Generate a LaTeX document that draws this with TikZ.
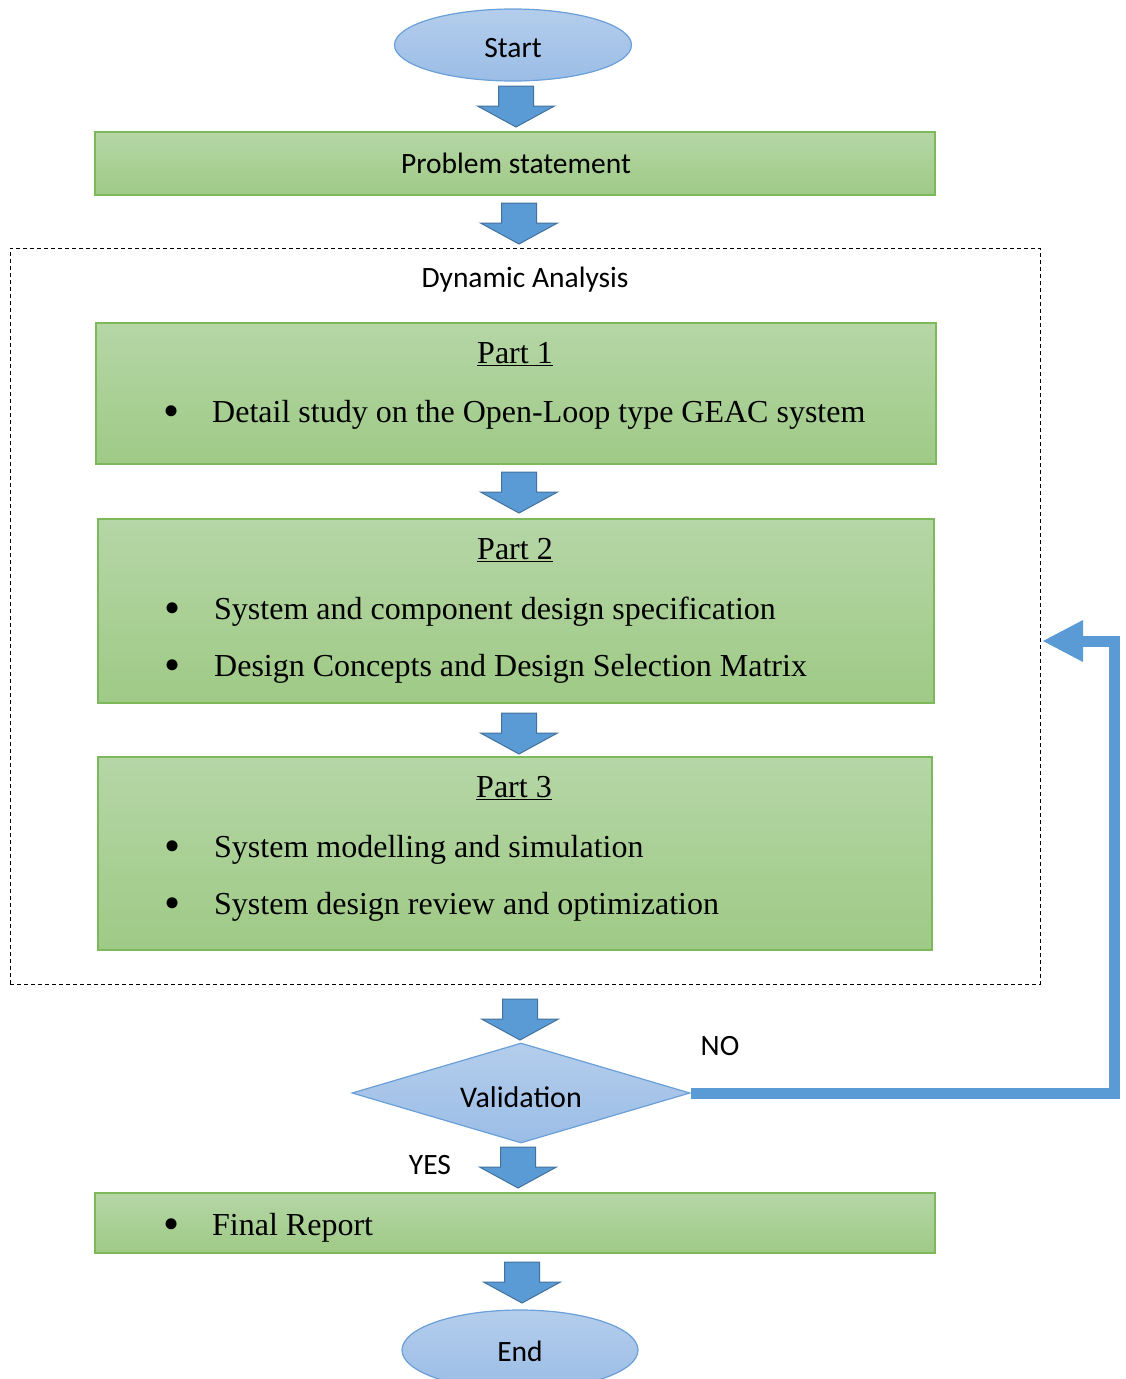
\documentclass[tikz,border=0pt]{standalone}
\usepackage{fontspec}
\setmainfont{Liberation Serif}
\newfontfamily\calibri{Carlito}
\usetikzlibrary{shapes.geometric}
\definecolor{gtop}{HTML}{B5D6A6}
\definecolor{gbot}{HTML}{9FCA86}
\definecolor{gline}{HTML}{7DB95A}
\definecolor{btop}{HTML}{B4CDEC}
\definecolor{bbot}{HTML}{9BBDE6}
\definecolor{bline}{HTML}{6A9FD8}
\definecolor{afill}{HTML}{5B9BD5}
\definecolor{aline}{HTML}{41719C}
\tikzset{
  gbox/.style={draw=gline, line width=1.2pt, top color=gtop, bottom color=gbot, rectangle, inner sep=0pt},
  bell/.style={ellipse, draw=bline, line width=1.2pt, top color=btop, bottom color=bbot, inner sep=0pt},
  sanslbl/.style={font=\calibri\fontsize{29.5}{34}\selectfont, inner sep=0pt},
  serlbl/.style={font=\fontsize{32}{37}\selectfont, inner sep=0pt},
  bul/.style={font=\fontsize{46}{50}\selectfont, inner sep=0pt},
  barrow/.style={fill=afill, draw=aline, line width=1pt, line join=miter},
}
\newcommand\blkarrow[1]{%
  \draw[barrow, shift={(#1)}] (-17.5,0) -- (17.5,0) -- (17.5,20) -- (38.5,20) -- (0,41) -- (-38.5,20) -- (-17.5,20) -- cycle;}
\begin{document}
\begin{tikzpicture}[x=1pt,y=-1pt]
\useasboundingbox (0,0) rectangle (1125,1379);
% dashed frame
\node[draw, dash pattern=on 4pt off 3pt, line width=0.9pt, minimum width=1030, minimum height=736, inner sep=0pt] (frame) at (525,616) {};
\node[sanslbl] (dyn) at (525,280) {Dynamic Analysis};
% start
\node[bell, minimum width=237, minimum height=72] (start) at (513,45) {};
\node[sanslbl] (startt) at (513,48) {Start};
\coordinate (a1) at (516,86);
\blkarrow{a1}
% problem statement
\node[gbox, minimum width=840, minimum height=63] (ps) at (515,163.5) {};
\node[sanslbl] (pst) at (516,163) {Problem statement};
\coordinate (a2) at (519,203);
\blkarrow{a2}
% part 1
\node[gbox, minimum width=840, minimum height=141] (p1) at (516,393.5) {};
\node[serlbl] (p1t) at (515,354) {\underline{Part 1}};
\node[bul] (p1b) at (172,416) {\textbullet};
\node[serlbl, anchor=west] (p1x) at (212,415) {Detail study on the Open-Loop type GEAC system};
\coordinate (a3) at (519,472);
\blkarrow{a3}
% part 2
\node[gbox, minimum width=836, minimum height=184] (p2) at (516,611) {};
\node[serlbl] (p2t) at (515,550) {\underline{Part 2}};
\node[bul] (p2b1) at (173,613) {\textbullet};
\node[serlbl, anchor=west] (p2x1) at (214,612) {System and component design specification};
\node[bul] (p2b2) at (173,670) {\textbullet};
\node[serlbl, anchor=west] (p2x2) at (214,669) {Design Concepts and Design Selection Matrix};
\coordinate (a4) at (519,713);
\blkarrow{a4}
% part 3
\node[gbox, minimum width=834, minimum height=193] (p3) at (515,853.5) {};
\node[serlbl] (p3t) at (514,788) {\underline{Part 3}};
\node[bul] (p3b1) at (173,851) {\textbullet};
\node[serlbl, anchor=west] (p3x1) at (214,850) {System modelling and simulation};
\node[bul] (p3b2) at (173,908) {\textbullet};
\node[serlbl, anchor=west] (p3x2) at (214,907) {System design review and optimization};
\coordinate (a5) at (520,999);
\blkarrow{a5}
% validation
\node[diamond, draw=bline, line width=1.2pt, top color=btop, bottom color=bbot, inner sep=0pt, aspect=3.38, minimum width=338, minimum height=100] (val) at (521,1093) {};
\node[sanslbl, font=\calibri\fontsize{30}{34}\selectfont] (valt) at (521,1097) {Validation};
\node[sanslbl] (no) at (720,1046) {NO};
\node[sanslbl] (yes) at (430,1165) {YES};
% NO loop
\coordinate (notip) at (1043,641);
\draw[afill, line width=11pt, line join=miter] (val.east) -- (1114.5,1093) -- (1114.5,641) -- (1080,641);
\fill[afill] (notip) -- (1083,620) -- (1083,662) -- cycle;
\coordinate (a6) at (518,1147);
\blkarrow{a6}
% final report
\node[gbox, minimum width=840, minimum height=60] (fr) at (515,1223) {};
\node[bul] (frb) at (172,1229) {\textbullet};
\node[serlbl, anchor=west] (frx) at (212,1228) {Final Report};
\coordinate (a7) at (522,1262);
\blkarrow{a7}
% end
\node[bell, minimum width=236, minimum height=80] (end) at (520,1350) {};
\node[sanslbl] (endt) at (520,1351) {End};
\end{tikzpicture}
\end{document}
